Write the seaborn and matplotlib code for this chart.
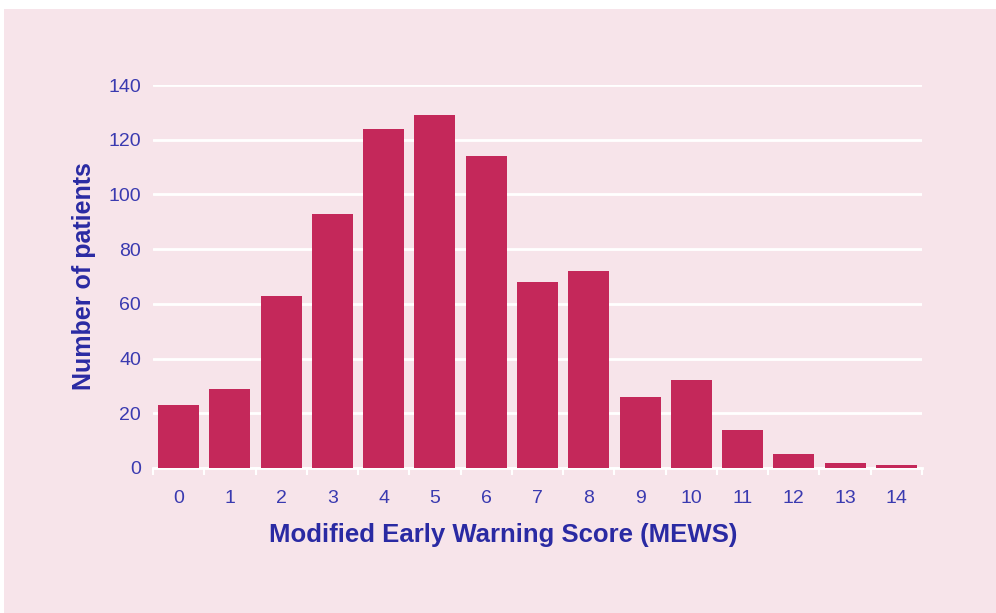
import numpy as np
import pandas as pd
import matplotlib
matplotlib.use("Agg")
import matplotlib.pyplot as plt
import seaborn as sns
from matplotlib.patches import Rectangle
from matplotlib.ticker import FixedLocator

# MEWS score categories and patient counts
scores = [str(s) for s in range(15)]
patients = [23, 29, 63, 93, 124, 129, 114, 68, 72, 26, 32, 14, 5, 2, 1]
y_ticks = [0, 20, 40, 60, 80, 100, 120, 140]

BG = "#F7E4EA"
BAR = "#C4285A"
LABEL = "#2A2AA3"
TICK = "#3A3AB0"

sns.set_theme(style="white")
plt.rcParams["font.family"] = ["Liberation Sans", "DejaVu Sans"]

df = pd.DataFrame({"score": scores, "patients": patients})

fig = plt.figure(figsize=(9.96, 6.13), dpi=100, facecolor="white")
# pink panel behind the chart
fig.patches.append(Rectangle((4 / 996, 0), 1, 1 - 9 / 613, transform=fig.transFigure,
                             facecolor=BG, edgecolor="none", zorder=-10))

ax = fig.add_axes([153 / 996, 1 - 468 / 613, (922 - 153) / 996, (468 - 85) / 613])
ax.set_facecolor(BG)

sns.barplot(data=df, x="score", y="patients", color=BAR, width=0.8,
            saturation=1, linewidth=0, ax=ax, zorder=3)

ax.set_xlim(-0.5, len(scores) - 0.5)
ax.set_ylim(0, 140)
ax.set_yticks(y_ticks)
ax.yaxis.grid(True, color="white", linewidth=2, zorder=0)
ax.xaxis.grid(False)
ax.set_axisbelow(True)

for side in ["top", "right", "left"]:
    ax.spines[side].set_visible(False)
ax.spines["bottom"].set_color("white")
ax.spines["bottom"].set_linewidth(2)

ax.xaxis.set_minor_locator(FixedLocator(np.arange(-0.5, len(scores), 1.0)))
ax.tick_params(axis="x", which="minor", bottom=True, length=5, width=1.5, color="white")
ax.tick_params(axis="x", which="major", length=0, pad=16, labelsize=14, labelcolor=TICK)
ax.tick_params(axis="y", length=0, pad=8.5, labelsize=14, labelcolor=TICK)

ax.set_xlabel("Modified Early Warning Score (MEWS)", fontsize=18.5, fontweight="bold",
              color=LABEL)
ax.xaxis.set_label_coords(0.456, -0.175)
ax.xaxis.label.set_va("center")
ax.set_ylabel("Number of patients", fontsize=18, fontweight="bold",
              color=LABEL, labelpad=9)

fig.savefig("out.png", dpi=100, facecolor=fig.get_facecolor())
